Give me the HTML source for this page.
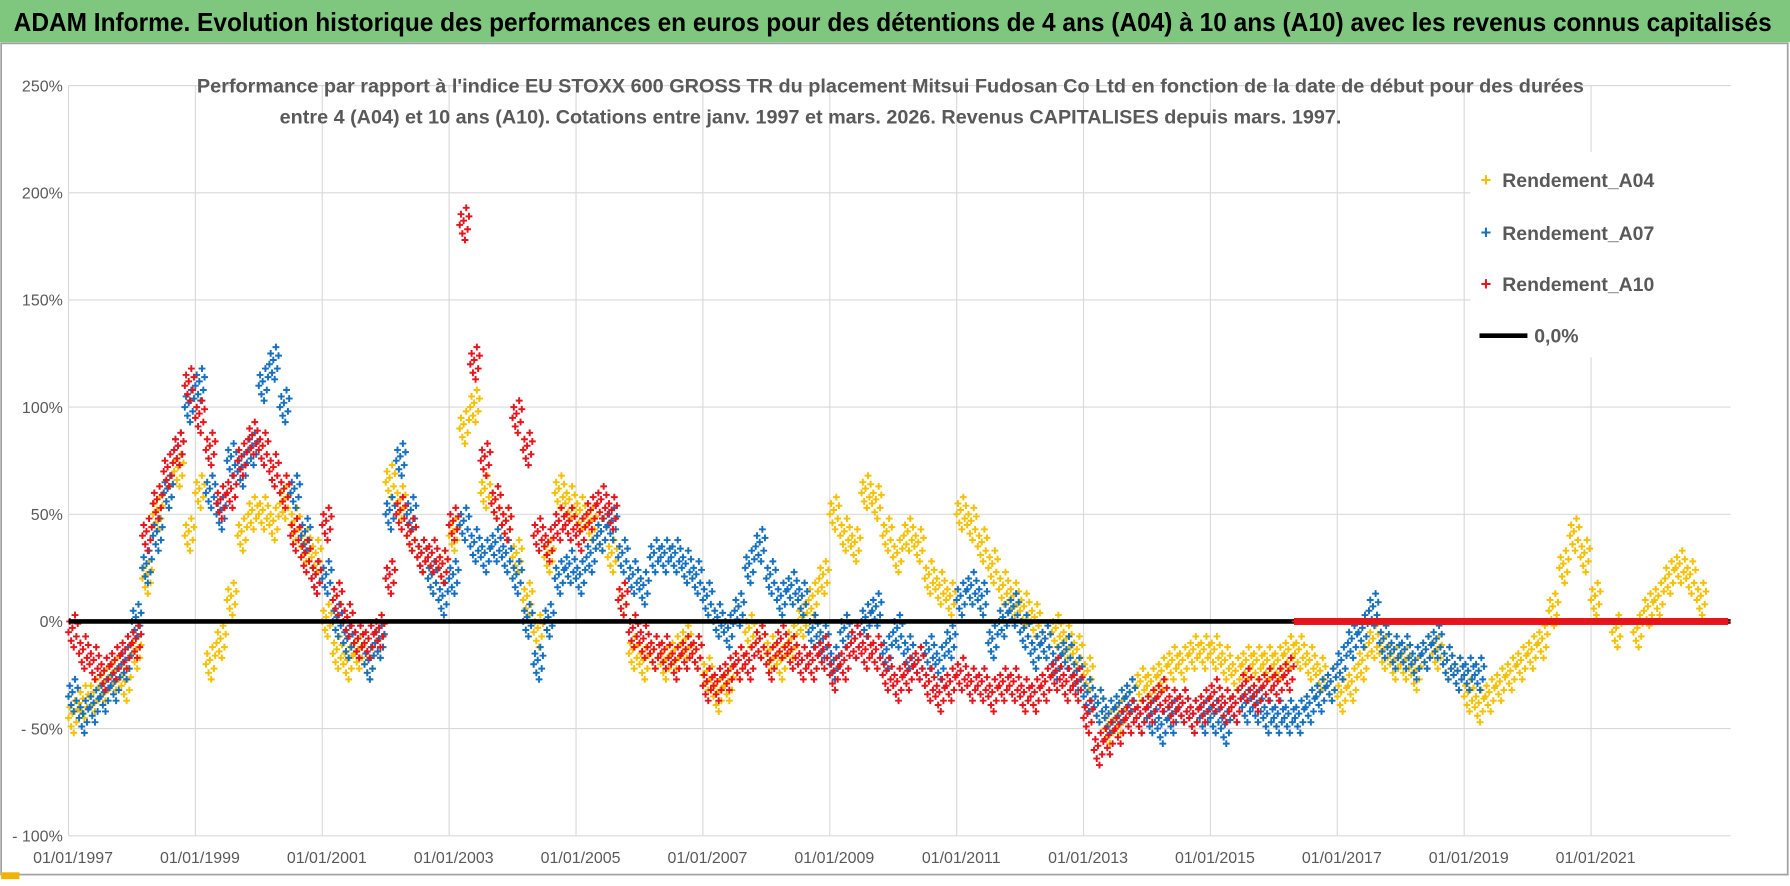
<!DOCTYPE html>
<html><head><meta charset="utf-8"><style>
html,body{margin:0;padding:0;background:#fff}
svg{display:block}
text{font-family:"Liberation Sans",sans-serif}
</style></head><body>
<svg id="chart" width="1790" height="886" viewBox="0 0 1568 776" preserveAspectRatio="none" xmlns="http://www.w3.org/2000/svg">
<rect x="0" y="0" width="1568" height="776" fill="#fff"/>
<rect x="0" y="0" width="1568" height="37" fill="#7fc77f"/>
<text x="12" y="27" font-size="22.5" font-weight="bold" fill="#000" textLength="1540" lengthAdjust="spacingAndGlyphs">ADAM Informe. Evolution historique des performances en euros pour des détentions de 4 ans (A04) à 10 ans (A10) avec les revenus connus capitalisés</text>
<rect x="1" y="38" width="1565" height="728" fill="none" stroke="#a0a0a0" stroke-width="1.5"/>
<rect x="1" y="764" width="16" height="6" fill="#f0b400"/>
<g id="grid"></g>
<g id="ylabels"></g>
<g id="xlabels"></g>
<g id="series"></g>
<rect x="1288" y="133" width="230" height="180" fill="#fff"/>
<text x="780" y="81" font-size="17" font-weight="bold" fill="#595959" text-anchor="middle" textLength="1215" lengthAdjust="spacingAndGlyphs">Performance par rapport à l'indice EU STOXX 600 GROSS TR  du placement Mitsui Fudosan Co Ltd en fonction de la date de début pour des durées</text>
<text x="710" y="108" font-size="17" font-weight="bold" fill="#595959" text-anchor="middle" textLength="930" lengthAdjust="spacingAndGlyphs">entre 4 (A04) et 10 ans (A10).  Cotations entre janv. 1997 et mars. 2026.  Revenus CAPITALISES depuis mars. 1997.</text>
<g>
<g><text x="1297" y="163" font-size="16" fill="#f5c000" font-weight="bold">+</text><text x="1316" y="164" font-size="17" font-weight="bold" fill="#595959">Rendement_A04</text></g>
<g><text x="1297" y="209" font-size="16" fill="#1670c0" font-weight="bold">+</text><text x="1316" y="210" font-size="17" font-weight="bold" fill="#595959">Rendement_A07</text></g>
<g><text x="1297" y="254" font-size="16" fill="#e8141c" font-weight="bold">+</text><text x="1316" y="255" font-size="17" font-weight="bold" fill="#595959">Rendement_A10</text></g>
<g><line x1="1296" y1="294" x2="1338" y2="294" stroke="#000" stroke-width="4"/><text x="1344" y="300" font-size="17" font-weight="bold" fill="#595959">0,0%</text></g>
</g>
</svg>
<script>
const yTicks=[250,200,150,100,50,0,-50,-100];
const yTickLabels=["250%","200%","150%","100%","50%","0%","- 50%","- 100%"];
const xTickYears=[1997,1999,2001,2003,2005,2007,2009,2011,2013,2015,2017,2019,2021];
const xTickLabels=["01/01/1997","01/01/1999","01/01/2001","01/01/2003","01/01/2005","01/01/2007","01/01/2009","01/01/2011","01/01/2013","01/01/2015","01/01/2017","01/01/2019","01/01/2021"];
const startYear=1997;
const perYear=6;
const a04=[-45,-38,-35,-30,-25,-30, -15,20,50,60,70,40, 60,-20,-10,10,40,50, 50,45,55,45,35,30, 0,-15,-20,-15,-20,-10, 65,55,40,30,20,25, 40,90,100,60,55,45, 30,10,-5,30,60,55, 50,45,40,30,10,-15, -20,-15,-20,-15,-10,-15, -25,-35,-30,-20,-5,-10, -15,-20,-10,0,10,20, 50,40,35,60,55,40, 30,40,35,20,15,10, 50,45,35,25,15,10, 5,0,-10,-5,-10,-15, -25,-40,-50,-45,-35,-30, -30,-25,-20,-20,-15,-15, -15,-20,-25,-20,-20,-20, -20,-15,-15,-20,-25,-30, -35,-30,-20,-10,-15,-20, -20,-25,-15,-15,-20,-25, -35,-40,-35,-30,-25,-20, -15,-10,5,25,40,30, 10,0,-5,0,-5,5, 10,20,25,20,10];
const a07=[-35,-45,-40,-35,-30,-20, 0,25,40,60,80,100, 110,60,50,75,70,80, 110,120,100,60,40,20, 20,0,-10,-10,-20,-10, 50,75,50,30,20,10, 20,45,35,30,35,30, 20,0,-20,0,20,25, 20,30,40,45,30,20, 15,30,30,30,25,20, 10,0,-5,5,25,35, 20,10,15,10,-5,-10, -20,-5,-10,0,5,-15, -5,-15,-20,-15,-20,-10, 10,15,10,-10,0,5, -5,-15,-10,-20,-15,-25, -35,-40,-45,-40,-35,-45, -45,-50,-45,-40,-45,-45, -45,-50,-40,-40,-40,-45, -45,-45,-45,-40,-35,-30, -20,-10,-5,5,-10,-15, -15,-20,-15,-10,-20,-25, -25,-25];
const a10=[-5,-15,-20,-25,-20,-15, -10,40,55,70,80,110, 95,80,55,60,75,85, 80,70,60,40,30,20, 45,10,0,-10,-10,-5, 20,50,40,30,30,25, 45,185,120,75,55,45, 95,80,40,35,45,45, 40,50,55,50,10,-5, -10,-15,-15,-20,-15,-15, -30,-30,-25,-20,-20,-10, -20,-10,-15,-20,-20,-15, -25,-20,-10,-15,-15,-25, -30,-25,-20,-30,-35,-30, -25,-30,-30,-35,-30,-30, -35,-35,-30,-25,-30,-30, -45,-60,-55,-50,-45,-45, -40,-35,-40,-40,-45,-40, -35,-40,-40,-30,-35,-30, -30,-25,0,0,0,0, 0,0,0,0,0,0, 0,0,0,0,0,0, 0,0,0,0,0,0, 0,0,0,0,0,0, 0,0,0,0,0,0, 0,0,0,0,0,0, 0];
const seriesNames=["a04","a07","a10"];
const seriesColors=["#f5c000","#1670c0","#e8141c"];

const L=60,R=1516,T=75,B=732;
function yScale(v){return T+(250-v)/350*(B-T);}
function xScale(t){return L+(t-1997)*(R-L)/26.2;}
const NS="http://www.w3.org/2000/svg";
function mk(tag,attrs,parent){const e=document.createElementNS(NS,tag);for(const k in attrs)e.setAttribute(k,attrs[k]);parent.appendChild(e);return e;}
const grid=document.getElementById('grid');
yTicks.forEach((v,i)=>{
  const l=mk('line',{x1:L,x2:R,y1:yScale(v),y2:yScale(v),stroke:'#d9d9d9','stroke-width':1},grid);
  
  
  const t=mk('text',{x:55,y:yScale(v)+5,'font-size':14,fill:'#595959','text-anchor':'end'},document.getElementById('ylabels'));
  t.textContent=yTickLabels[i];
  
  
});
xTickYears.forEach((yr,i)=>{
  const l=mk('line',{x1:xScale(yr),x2:xScale(yr),y1:T,y2:B,stroke:'#d9d9d9','stroke-width':1},grid);
  
  
  const t=mk('text',{x:xScale(yr)+4,y:756,'font-size':14,fill:'#595959','text-anchor':'middle'},document.getElementById('xlabels'));
  t.textContent=xTickLabels[i];
  
  
});
const sg=document.getElementById('series');
const dxs=[0,0.12,0.25,0.37,0.5,0.62,0.75,0.87],dys=[0,5,-4,2,-7,8,-2,4];
function pts(arr,zeroMode){
  let d='';
  arr.forEach((v,i)=>{
    if(zeroMode&&!(v===0&&startYear+i/perYear>2016))return;
    for(let k=0;k<dxs.length;k++){
      const isZero=(zeroMode||(v===0&&startYear+i/perYear>2016));
      const x=xScale(startYear+(i+dxs[k])/perYear);
      const y=yScale(v+(isZero?0:dys[k]));
      d+=`M${(x-3).toFixed(1)} ${y.toFixed(1)}h6M${x.toFixed(1)} ${(y-3).toFixed(1)}v6`;
    }
  });
  return d;
}
[a04,a07,a10].forEach((arr,si)=>{
  const g=mk('g',{stroke:seriesColors[si],'stroke-width':1.7},sg);
  
  
  const p=mk('path',{d:pts(arr,false),fill:'none'},g);
  
  
});
const z=mk('line',{x1:L,x2:R,y1:yScale(0),y2:yScale(0),stroke:'#000','stroke-width':4},sg);


const g2=mk('g',{stroke:'#e8141c','stroke-width':1.7},sg);


const p2=mk('path',{d:pts(a10,true),fill:'none'},g2);


</script>
</body></html>
